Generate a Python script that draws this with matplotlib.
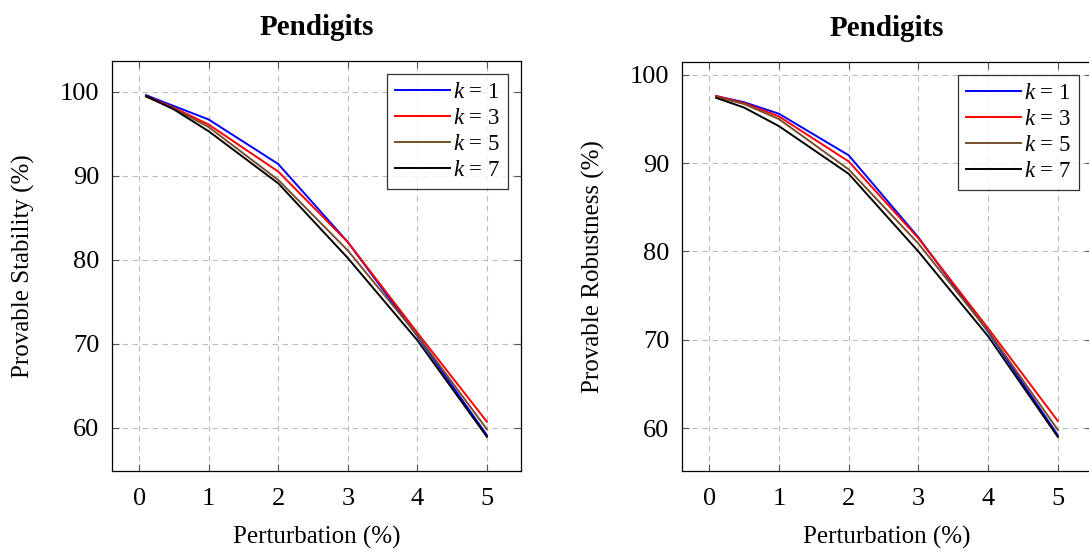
import matplotlib
matplotlib.use("Agg")
import matplotlib.pyplot as plt

# data
perturbation = [0.1, 0.5, 1, 2, 3, 4, 5]
k_labels = ["1", "3", "5", "7"]

stability_k1 = [99.6, 98.3, 96.7, 91.4, 82.1, 70.9, 59.1]
stability_k3 = [99.5, 98.1, 96.1, 90.5, 82.1, 71.3, 60.7]
stability_k5 = [99.4, 98.0, 95.8, 89.5, 81.1, 71.0, 59.8]
stability_k7 = [99.5, 97.9, 95.3, 89.1, 80.2, 70.4, 58.9]

robustness_k1 = [97.6, 96.9, 95.6, 90.9, 81.6, 70.9, 59.2]
robustness_k3 = [97.6, 96.8, 95.3, 90.2, 81.5, 71.3, 60.8]
robustness_k5 = [97.5, 96.7, 95.0, 89.3, 80.9, 71.0, 59.8]
robustness_k7 = [97.4, 96.3, 94.2, 88.8, 80.0, 70.4, 59.0]

x_ticks = [0, 1, 2, 3, 4, 5]
y_ticks = [60, 70, 80, 90, 100]

COLORS = ["#0000ff", "#ff0000", "#774f2c", "#000000"]

plt.rcParams["font.family"] = ["Liberation Serif", "DejaVu Serif"]
plt.rcParams["mathtext.fontset"] = "custom"
plt.rcParams["mathtext.it"] = "Liberation Serif:italic"
plt.rcParams["mathtext.rm"] = "Liberation Serif"

fig = plt.figure(figsize=(10.89, 5.54), dpi=100)

ax_left = fig.add_axes([112 / 1089, 83 / 554, 409 / 1089, 410 / 554])
ax_right = fig.add_axes([682 / 1089, 83 / 554, 410 / 1089, 409 / 554])


def enlarged(lo, hi, frac=0.1):
    pad = (hi - lo) * frac
    return lo - pad, hi + pad


def draw_panel(ax, series, ylabel):
    for vals, k, c in zip(series, k_labels, COLORS):
        ax.plot(perturbation, vals, color=c, lw=1.4, label=f"$k$ = {k}")

    ax.set_xlim(*enlarged(min(perturbation), max(perturbation)))
    all_vals = [v for s in series for v in s]
    ax.set_ylim(*enlarged(min(all_vals), max(all_vals)))

    ax.set_xticks(x_ticks)
    ax.set_yticks(y_ticks)
    ax.tick_params(direction="in", length=5, width=0.8, color="#555555",
                   top=True, right=True, labelsize=19)
    ax.tick_params(axis="y", pad=9)
    ax.tick_params(axis="x", pad=12)

    ax.grid(True, color="#bbbbbb", linestyle=(0, (5, 4)), lw=0.8)
    ax.set_axisbelow(True)
    for sp in ax.spines.values():
        sp.set_linewidth(0.9)

    ax.set_title("Pendigits", fontsize=21, fontweight="bold", pad=19)
    ax.set_xlabel("Perturbation (%)", fontsize=18, labelpad=12)
    ax.set_ylabel(ylabel, fontsize=18, labelpad=18)

    leg = ax.legend(loc="upper right", fontsize=16.5, frameon=True, fancybox=False,
                    borderaxespad=0.55, handlelength=2.4, handletextpad=0.15,
                    labelspacing=0.22, borderpad=0.35)
    leg.get_frame().set_edgecolor("black")
    leg.get_frame().set_linewidth(0.9)


draw_panel(ax_left, [stability_k1, stability_k3, stability_k5, stability_k7],
           "Provable Stability (%)")
draw_panel(ax_right, [robustness_k1, robustness_k3, robustness_k5, robustness_k7],
           "Provable Robustness (%)")

fig.savefig("out.png", dpi=100)
